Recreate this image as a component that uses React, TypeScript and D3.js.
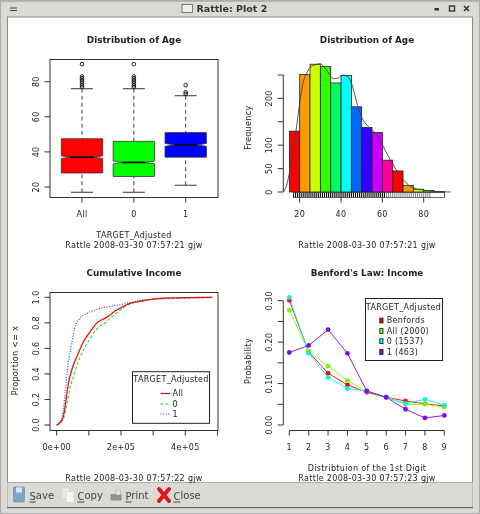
import React from "react";
import * as d3 from "d3";

const FONT = "'DejaVu Sans', sans-serif";
const INK = "#222";

// Boxplot data
const boxGroups = ["All", "0", "1"];
const boxColors = ["#ff0000", "#00ff00", "#0000ff"];
const boxLow = [17, 17, 21];
const boxQ1 = [28, 26, 37];
const boxMedian = [37, 34, 44];
const boxQ3 = [47.5, 46, 51];
const boxHigh = [76, 76, 72];
const boxNotchLow = [36.3, 33.2, 43.2];
const boxNotchHigh = [37.7, 34.8, 44.8];
const boxOutliers = [
  [77, 78, 79, 80, 81, 82, 83, 90],
  [77, 78, 79, 80, 81, 82, 83, 90],
  [73, 74, 78],
];

// Histogram data
const histEdges = [15, 20, 25, 30, 35, 40, 45, 50, 55, 60, 65, 70, 75, 80, 85, 90];
const histCounts = [130, 251, 273, 268, 233, 249, 182, 138, 127, 68, 45, 14, 6, 3, 1];
const histColors = ["#ff0000", "#ff9900", "#ccff00", "#33ff00", "#00ff66", "#00ffff", "#0066ff", "#3300ff", "#cc00ff", "#ff0099"];
const densityAge = [12.1, 13.7, 15.3, 16.9, 18.5, 20.2, 21.8, 23.4, 25, 27.4, 29.8, 32.3, 34.7, 36.6, 38.7, 41.1, 43.5, 46, 47.6, 49.2, 50.8, 53.2, 55.6, 58.1, 60.5, 62.9, 65.3, 67.7, 70.2, 72.6, 75, 78.2, 81.5, 84.7, 93];
const densityFreq = [0, 15, 47, 93, 140, 197, 236, 254, 266, 272, 274, 265, 249, 242, 244, 250, 246, 219, 191, 168, 153, 140, 130, 118, 97, 76, 58, 40, 26, 15, 9, 5, 3, 1.4, 0];
const rugAges = [17, 18, 19, 20, 21, 22, 23, 24, 25, 26, 27, 28, 29, 30, 31, 32, 33, 34, 35, 36, 37, 38, 39, 40, 41, 42, 43, 44, 45, 46, 47, 48, 49, 50, 51, 52, 53, 54, 55, 56, 57, 58, 59, 60, 61, 62, 63, 64, 65, 66, 67, 68, 69, 70, 71, 72, 73, 74, 75, 76, 77, 78, 79, 80, 81, 82, 83, 90];
const rugGrey = 62;

// Cumulative income data
const cdfNames = ["All", "0", "1"];
const cdfColors = ["#e81010", "#22dd22", "#3333ee"];
const cdfDashes = ["none", "3 2", "1 1.6"];
const cdfXAll = [0, 10, 19, 26, 33, 41, 52, 67, 83, 104, 124, 155, 187, 228, 269, 321, 406, 484];
const cdfYAll = [0, 0.018, 0.052, 0.143, 0.274, 0.378, 0.47, 0.561, 0.652, 0.73, 0.796, 0.843, 0.9, 0.953, 0.973, 0.992, 0.998, 1];
const cdfX0 = [0, 12, 23, 31, 41, 52, 67, 83, 104, 124, 155, 187, 228, 269, 321, 406, 484];
const cdfY0 = [0, 0.018, 0.065, 0.157, 0.287, 0.378, 0.496, 0.587, 0.679, 0.749, 0.809, 0.879, 0.948, 0.973, 0.992, 0.998, 1];
const cdfX1 = [0, 10, 19, 26, 36, 47, 57, 72, 98, 135, 176, 228, 269, 344, 448, 484];
const cdfY1 = [0, 0.026, 0.092, 0.248, 0.483, 0.64, 0.77, 0.835, 0.879, 0.913, 0.932, 0.958, 0.979, 0.988, 0.996, 0.998];

// Benford data
const digits = [1, 2, 3, 4, 5, 6, 7, 8, 9];
const benfordNames = ["Benfords", "All (2000)", "0 (1537)", "1 (463)"];
const benfordColors = ["#ff0000", "#80ff00", "#00ffff", "#8000ff"];
const benfordDots = ["#e01818", "#80f010", "#10eef0", "#7a10e8"];
const benfordSeries = [
  [0.301, 0.176, 0.125, 0.097, 0.079, 0.067, 0.058, 0.051, 0.046],
  [0.277, 0.178, 0.142, 0.107, 0.082, 0.067, 0.05, 0.05, 0.043],
  [0.308, 0.173, 0.115, 0.088, 0.082, 0.067, 0.052, 0.062, 0.048],
  [0.175, 0.192, 0.23, 0.173, 0.082, 0.067, 0.038, 0.017, 0.023],
];

// Scales
const boxY = d3.scaleLinear().domain([20, 80]).range([187, 81.7]);
const boxX = d3.scalePoint().domain(boxGroups).range([82, 185.7]);
const histX = d3.scaleLinear().domain([20, 80]).range([299.7, 423.7]);
const histY = d3.scaleLinear().domain([0, 250]).range([192, 75]);
const cdfX = d3.scaleLinear().domain([0, 400]).range([56.7, 185.3]);
const cdfY = d3.scaleLinear().domain([0, 1]).range([425, 297.3]);
const benX = d3.scaleLinear().domain([1, 9]).range([289.3, 444.3]);
const benY = d3.scaleLinear().domain([0, 0.3]).range([425, 300.7]);

const T = ({ x, y, s = 8, w = 400, a = "middle", r, ls = 0.33, fill = INK, children }: any) => (
  <text
    x={x}
    y={y}
    fontSize={s}
    fontWeight={w}
    textAnchor={a}
    dominantBaseline="central"
    fontFamily={FONT}
    fill={fill}
    letterSpacing={ls}
    transform={r ? `rotate(${r} ${x} ${y})` : undefined}
  >
    {children}
  </text>
);

const L = ({ x1, y1, x2, y2, c = "#333", w = 1, d }: any) => (
  <line x1={x1} y1={y1} x2={x2} y2={y2} stroke={c} strokeWidth={w} strokeDasharray={d} />
);

function BoxPanel() {
  const halfW = 20.7;
  return (
    <g>
      {boxGroups.map((g, i) => {
        const cx = boxX(g)!;
        const q1 = boxY(boxQ1[i]);
        const q3 = boxY(boxQ3[i]);
        const m = boxY(boxMedian[i]);
        const nl = boxY(boxNotchLow[i]);
        const nh = boxY(boxNotchHigh[i]);
        const l = cx - halfW;
        const r = cx + halfW;
        const il = cx - halfW * 0.55;
        const ir = cx + halfW * 0.55;
        const path = `M${l},${q3}L${r},${q3}L${r},${nh}L${ir},${m}L${r},${nl}L${r},${q1}L${l},${q1}L${l},${nl}L${il},${m}L${l},${nh}Z`;
        return (
          <g key={g}>
            <L x1={cx} x2={cx} y1={boxY(boxHigh[i])} y2={q3} d="4 3" c="#444" />
            <L x1={cx} x2={cx} y1={boxY(boxLow[i])} y2={q1} d="4 3" c="#444" />
            <L x1={cx - 11} x2={cx + 11} y1={boxY(boxHigh[i])} y2={boxY(boxHigh[i])} />
            <L x1={cx - 11} x2={cx + 11} y1={boxY(boxLow[i])} y2={boxY(boxLow[i])} />
            <path d={path} fill={boxColors[i]} stroke="#333" strokeWidth={0.8} />
            <L x1={il} x2={ir} y1={m} y2={m} c="#111" w={1.8} />
            {boxOutliers[i].map((o) => (
              <circle key={o} cx={cx} cy={boxY(o)} r={1.8} fill="none" stroke="#222" strokeWidth={1} />
            ))}
            <L x1={cx} x2={cx} y1={197.3} y2={202.5} />
            <T x={cx} y={214.7}>{g}</T>
          </g>
        );
      })}
      <rect x={50} y={59.5} width={168} height={138} fill="none" stroke="#333" strokeWidth={1} />
      {[20, 40, 60, 80].map((t) => (
        <g key={t}>
          <L x1={44.5} x2={50} y1={boxY(t)} y2={boxY(t)} />
          <T x={36.5} y={boxY(t)} r={-90}>{t}</T>
        </g>
      ))}
      <T x={134} y={40} s={8.8} w={700} ls={0}>Distribution of Age</T>
      <T x={134} y={235}>TARGET_Adjusted</T>
      <T x={134} y={245}>Rattle 2008-03-30 07:57:21 gjw</T>
    </g>
  );
}

function HistPanel() {
  const density = d3
    .line<number>()
    .x((d) => histX(d))
    .y((_, i) => histY(densityFreq[i]))
    .curve(d3.curveMonotoneX);
  return (
    <g>
      {histCounts.map((c, i) => (
        <rect
          key={i}
          x={histX(histEdges[i])}
          y={histY(c)}
          width={histX(histEdges[i + 1]) - histX(histEdges[i])}
          height={histY(0) - histY(c)}
          fill={histColors[i % histColors.length]}
          stroke="#222"
          strokeWidth={0.8}
        />
      ))}
      <path d={density(densityAge)!} fill="none" stroke="#444" strokeWidth={0.9} />
      {rugAges.map((a) => (
        <L key={a} x1={histX(a)} x2={histX(a)} y1={192.5} y2={197.5} c={a < rugGrey ? "#000" : "#666"} w={a < rugGrey ? 1.1 : 0.8} />
      ))}
      <rect x={histX(17)} y={192.6} width={histX(90) - histX(17)} height={4.8} fill="none" stroke="#333" strokeWidth={0.7} />
      {[20, 40, 60, 80].map((t) => (
        <g key={t}>
          <L x1={histX(t)} x2={histX(t)} y1={197.3} y2={202.5} />
          <T x={histX(t)} y={214.7}>{t}</T>
        </g>
      ))}
      <L x1={283.3} x2={283.3} y1={histY(0)} y2={histY(250)} />
      {[0, 50, 100, 150, 200, 250].map((t) => (
        <g key={t}>
          <L x1={277.7} x2={283.3} y1={histY(t)} y2={histY(t)} />
          {t !== 150 && t !== 250 ? <T x={269.3} y={histY(t)} r={-90}>{t}</T> : null}
        </g>
      ))}
      <T x={248.5} y={127.7} r={-90}>Frequency</T>
      <T x={367} y={40} s={8.8} w={700} ls={0}>Distribution of Age</T>
      <T x={367} y={245}>Rattle 2008-03-30 07:57:21 gjw</T>
    </g>
  );
}

function CdfPanel() {
  const line = d3
    .line<[number, number]>()
    .x((d) => cdfX(d[0]))
    .y((d) => cdfY(d[1]))
    .curve(d3.curveMonotoneX);
  const series: [number, number][][] = [
    cdfXAll.map((x, i) => [x, cdfYAll[i]]),
    cdfX0.map((x, i) => [x, cdfY0[i]]),
    cdfX1.map((x, i) => [x, cdfY1[i]]),
  ];
  const legendY = [393.5, 404, 414];
  return (
    <g>
      {[2, 1, 0].map((i) => (
        <path key={i} d={line(series[i])!} fill="none" stroke={cdfColors[i]} strokeWidth={i === 0 ? 1.3 : 1.1} strokeDasharray={cdfDashes[i]} />
      ))}
      <rect x={50} y={292.5} width={168} height={138} fill="none" stroke="#333" strokeWidth={1} />
      {[0, 100, 200, 300, 400, 500].map((t) => (
        <L key={t} x1={cdfX(t)} x2={cdfX(t)} y1={430.5} y2={435.5} />
      ))}
      {[0, 200, 400].map((t, i) => (
        <T key={t} x={cdfX(t)} y={447.5}>{["0e+00", "2e+05", "4e+05"][i]}</T>
      ))}
      {[0, 0.2, 0.4, 0.6, 0.8, 1].map((t) => (
        <g key={t}>
          <L x1={44.5} x2={50} y1={cdfY(t)} y2={cdfY(t)} />
          <T x={36.5} y={cdfY(t)} r={-90}>{t.toFixed(1)}</T>
        </g>
      ))}
      <T x={15.5} y={360.5} r={-90}>{"Proportion <= x"}</T>
      <T x={134} y={273} s={8.8} w={700} ls={0}>Cumulative Income</T>
      <T x={134} y={478}>Rattle 2008-03-30 07:57:22 gjw</T>
      <rect x={132.5} y={371.7} width={77} height={51.6} fill="#fff" stroke="#222" strokeWidth={1} />
      <T x={171} y={379.5}>TARGET_Adjusted</T>
      {cdfNames.map((n, i) => (
        <g key={n}>
          <L x1={160.5} x2={170} y1={legendY[i]} y2={legendY[i]} c={cdfColors[i]} d={cdfDashes[i]} w={1.2} />
          <T x={172.5} y={legendY[i]} a="start">{n}</T>
        </g>
      ))}
    </g>
  );
}

function BenfordPanel() {
  const line = d3
    .line<number>()
    .x((_, i) => benX(digits[i]))
    .y((d) => benY(d));
  const legendY = [320.5, 331, 341.2, 352];
  return (
    <g>
      {benfordSeries.map((s, i) => (
        <path key={i} d={line(s)!} fill="none" stroke={benfordColors[i]} strokeWidth={0.9} />
      ))}
      {benfordSeries.map((s, i) =>
        s.map((v, j) => <circle key={`${i}-${j}`} cx={benX(digits[j])} cy={benY(v)} r={2.4} fill={benfordDots[i]} />)
      )}
      <L x1={benX(1)} x2={benX(9)} y1={430.5} y2={430.5} />
      {digits.map((d) => (
        <g key={d}>
          <L x1={benX(d)} x2={benX(d)} y1={430.5} y2={435.5} />
          <T x={benX(d)} y={447.5}>{d}</T>
        </g>
      ))}
      <L x1={283.3} x2={283.3} y1={benY(0)} y2={benY(0.3)} />
      {[0, 0.05, 0.1, 0.15, 0.2, 0.25, 0.3].map((t) => (
        <L key={t} x1={277.7} x2={283.3} y1={benY(t)} y2={benY(t)} />
      ))}
      {[0, 0.1, 0.2, 0.3].map((t) => (
        <T key={t} x={269.3} y={benY(t)} r={-90}>{t.toFixed(2)}</T>
      ))}
      <T x={248.5} y={361} r={-90}>Probability</T>
      <T x={367} y={273} s={8.8} w={700} ls={0}>{"Benford's Law: Income"}</T>
      <T x={367} y={468}>Distribtuion of the 1st Digit</T>
      <T x={367} y={478}>Rattle 2008-03-30 07:57:23 gjw</T>
      <rect x={365.5} y={298.5} width={77} height={62} fill="#fff" stroke="#222" strokeWidth={1} />
      <T x={403.5} y={307}>TARGET_Adjusted</T>
      {benfordNames.map((n, i) => (
        <g key={n}>
          <rect x={379.8} y={legendY[i] - 2.4} width={3.2} height={4.8} fill={benfordColors[i]} stroke="#222" strokeWidth={0.9} />
          <T x={386.7} y={legendY[i]} a="start">{n}</T>
        </g>
      ))}
    </g>
  );
}

function Chrome() {
  return (
    <g>
      <rect x={0} y={0} width={480} height={514} fill="#dcdad5" />
      <rect x={0} y={0} width={480} height={1.5} fill="#b5b3ae" />
      <rect x={7.5} y={17} width={465} height={465.5} fill="#fff" stroke="#777" strokeWidth={0.8} />
      <rect x={0.5} y={1} width={479} height={512.5} fill="none" stroke="#aaa" strokeWidth={1} />
      <path d="M10,8H17M10,10.5H17" stroke="#444" strokeWidth={1} />
      <rect x={182} y={4.5} width={10.5} height={8} fill="#eee" stroke="#777" strokeWidth={1} />
      <T x={196.5} y={8} s={9.5} w={700} a="start" fill="#333" ls={0}>Rattle: Plot 2</T>
      <rect x={434.5} y={8} width={4.5} height={2.5} fill="#333" />
      <rect x={449.5} y={6} width={5} height={5} fill="none" stroke="#333" strokeWidth={1.4} />
      <path d="M464,6L469,11M469,6L464,11" stroke="#333" strokeWidth={1.6} />
      <rect x={7.5} y={482.5} width={465} height={25} fill="#dcdad5" stroke="#aaa" strokeWidth={0.6} />
      <line x1={7} x2={473} y1={507.7} y2={507.7} stroke="#555" strokeWidth={1} />
      {/* Save */}
      <rect x={13.5} y={487} width={11} height={15} rx={1} fill="#7fa6c8" stroke="#5c86a8" strokeWidth={0.6} />
      <rect x={16} y={487.5} width={6} height={5} fill="#dfe6ec" />
      <T x={29.5} y={495.5} s={10} a="start" fill="#444" ls={0}><tspan textDecoration="underline">S</tspan>ave</T>
      {/* Copy */}
      <rect x={61.5} y={488} width={8} height={10} fill="#ededed" stroke="#ccc" strokeWidth={0.6} />
      <rect x={66} y={491.5} width={8} height={11} fill="#f6f6f6" stroke="#ccc" strokeWidth={0.6} />
      <T x={77.5} y={495.5} s={10} a="start" fill="#444" ls={0}><tspan textDecoration="underline">C</tspan>opy</T>
      {/* Print */}
      <rect x={110.5} y={494} width={11} height={6.5} rx={1} fill="#8f8f8f" />
      <rect x={116} y={490} width={4.5} height={5} fill="#e4e4e4" stroke="#999" strokeWidth={0.5} />
      <T x={125.5} y={495.5} s={10} a="start" fill="#444" ls={0}><tspan textDecoration="underline">P</tspan>rint</T>
      {/* Close */}
      <path d="M159,489L169,501M169,489L159,501" stroke="#e01818" strokeWidth={4} strokeLinecap="round" />
      <T x={173.5} y={495.5} s={10} a="start" fill="#444" ls={0}><tspan textDecoration="underline">C</tspan>lose</T>
    </g>
  );
}

export default function App() {
  return (
    <svg width={480} height={514} viewBox="0 0 480 514" style={{ position: "fixed", left: 0, top: 0, display: "block" }}>
      <defs>
        <filter id="soft" x="0" y="0" width="100%" height="100%">
          <feGaussianBlur stdDeviation="0.35" />
        </filter>
      </defs>
      <g filter="url(#soft)">
        <Chrome />
        <BoxPanel />
        <HistPanel />
        <CdfPanel />
        <BenfordPanel />
      </g>
    </svg>
  );
}
